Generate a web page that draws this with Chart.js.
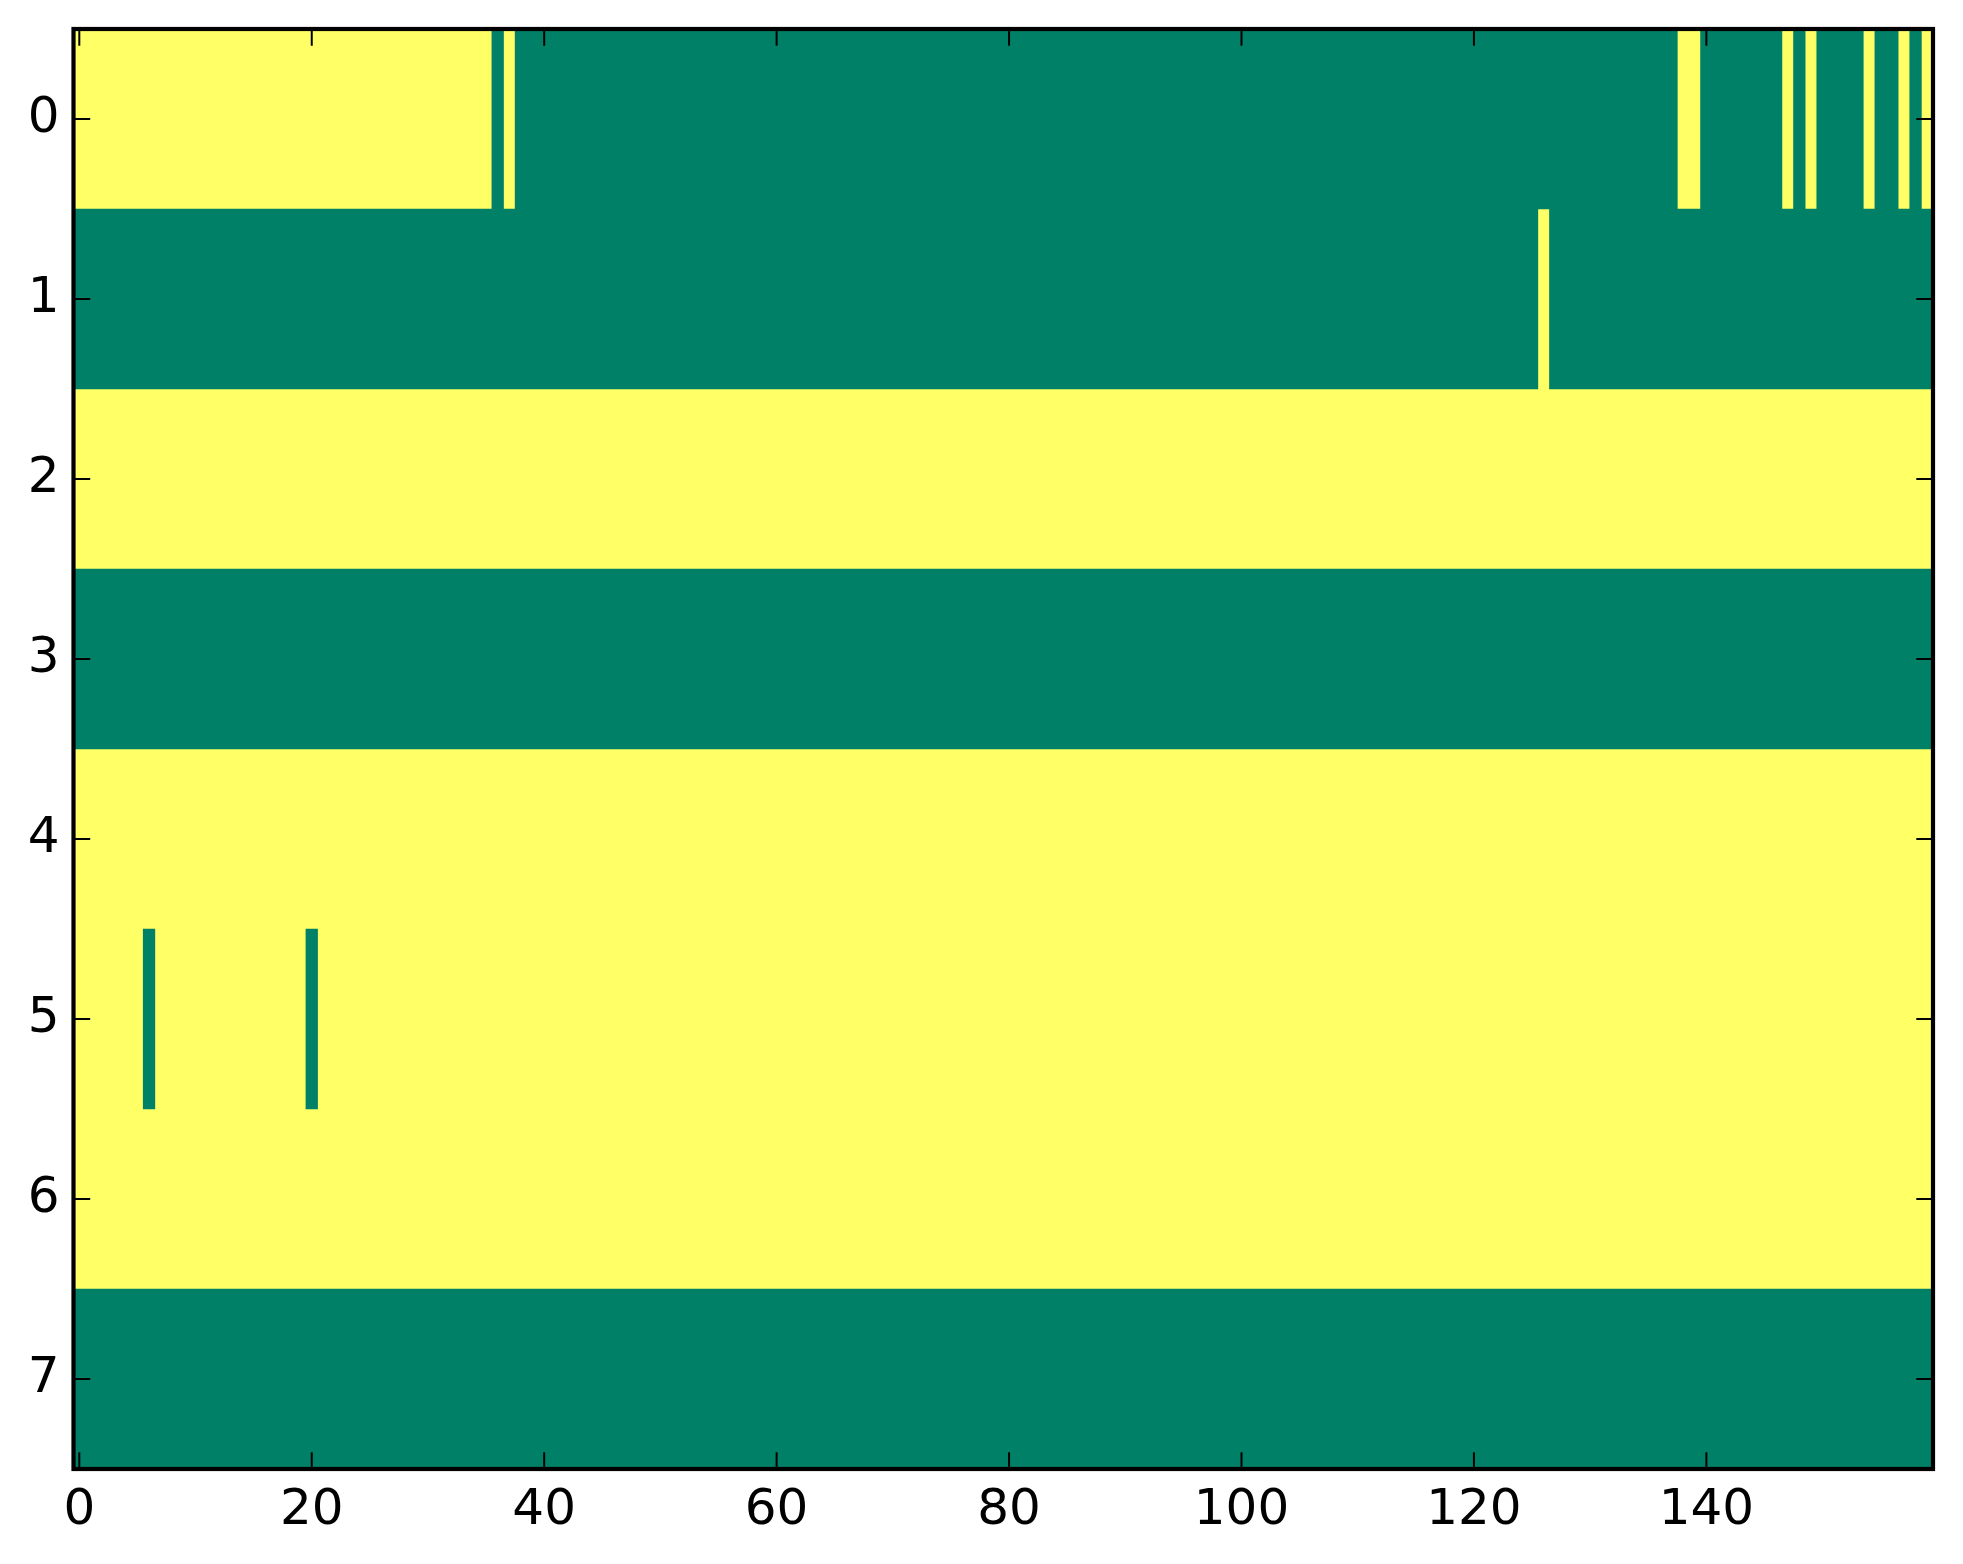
<!DOCTYPE html>
<html lang="en">

<head>
    <meta charset="UTF-8">
    <meta name="viewport" content="width=device-width, initial-scale=1.0">
    <title>Binary Matrix</title>
    <style>
        html, body {
            margin: 0;
            padding: 0;
            background: #ffffff;
        }

        .container {
            width: 1963px;
            height: 1564px;
        }
    </style>
</head>

<body>

    <div class="container">
        <canvas id="myMatrix"></canvas>
    </div>

    <script src="https://cdn.jsdelivr.net/npm/chart.js"></script>
    <script>
        // one string per row, one character per column (1 = yellow, 0 = green), grouped by 10
        const row0 = "1111111111 1111111111 1111111111 1111110100 0000000000 0000000000 0000000000 0000000000 0000000000 0000000000 0000000000 0000000000 0000000000 0000000011 0000000101 0000100101";
        const row1 = "0000000000 0000000000 0000000000 0000000000 0000000000 0000000000 0000000000 0000000000 0000000000 0000000000 0000000000 0000000000 0000001000 0000000000 0000000000 0000000000";
        const row2 = "1111111111 1111111111 1111111111 1111111111 1111111111 1111111111 1111111111 1111111111 1111111111 1111111111 1111111111 1111111111 1111111111 1111111111 1111111111 1111111111";
        const row3 = "0000000000 0000000000 0000000000 0000000000 0000000000 0000000000 0000000000 0000000000 0000000000 0000000000 0000000000 0000000000 0000000000 0000000000 0000000000 0000000000";
        const row4 = "1111111111 1111111111 1111111111 1111111111 1111111111 1111111111 1111111111 1111111111 1111111111 1111111111 1111111111 1111111111 1111111111 1111111111 1111111111 1111111111";
        const row5 = "1111110111 1111111111 0111111111 1111111111 1111111111 1111111111 1111111111 1111111111 1111111111 1111111111 1111111111 1111111111 1111111111 1111111111 1111111111 1111111111";
        const row6 = "1111111111 1111111111 1111111111 1111111111 1111111111 1111111111 1111111111 1111111111 1111111111 1111111111 1111111111 1111111111 1111111111 1111111111 1111111111 1111111111";
        const row7 = "0000000000 0000000000 0000000000 0000000000 0000000000 0000000000 0000000000 0000000000 0000000000 0000000000 0000000000 0000000000 0000000000 0000000000 0000000000 0000000000";

        const rows = [row0, row1, row2, row3, row4, row5, row6, row7];
        const rowLabels = ['0', '1', '2', '3', '4', '5', '6', '7'];
        const xTicks = [0, 20, 40, 60, 80, 100, 120, 140];

        // summer colormap ends
        const cellColors = ['#008066', '#FFFF66'];

        const grid = rows.map(r => r.replace(/ /g, '').split('').map(Number));
        const nCols = grid[0].length;

        // turn each row into runs of equal value, one floating bar per run
        function runsFor(value) {
            const out = [];
            grid.forEach((cells, r) => {
                let start = null;
                cells.forEach((v, c) => {
                    if (v === value && start === null) start = c;
                    if (start !== null && (v !== value || c === cells.length - 1)) {
                        const end = v === value ? c : c - 1;
                        out.push({ y: rowLabels[r], x: [start - 0.5, end + 0.5] });
                        start = null;
                    }
                });
            });
            return out;
        }

        const data = {
            labels: rowLabels,
            datasets: [0, 1].map(v => ({
                data: runsFor(v),
                backgroundColor: cellColors[v],
                borderWidth: 0,
                barPercentage: 1,
                categoryPercentage: 1,
                grouped: false,
            }))
        };

        // frame and inward ticks on all four sides, like matplotlib classic
        const framePlugin = {
            id: 'frame',
            afterDatasetsDraw(chart) {
                const { ctx, chartArea: a, scales } = chart;
                const len = 16.7;
                ctx.save();
                ctx.strokeStyle = '#000';
                ctx.lineWidth = 2;
                ctx.beginPath();
                xTicks.forEach(t => {
                    const px = scales.x.getPixelForValue(t);
                    ctx.moveTo(px, a.bottom); ctx.lineTo(px, a.bottom - len);
                    ctx.moveTo(px, a.top); ctx.lineTo(px, a.top + len);
                });
                rowLabels.forEach((l, i) => {
                    const py = scales.y.getPixelForValue(i);
                    ctx.moveTo(a.left, py); ctx.lineTo(a.left + len, py);
                    ctx.moveTo(a.right, py); ctx.lineTo(a.right - len, py);
                });
                ctx.stroke();
                ctx.lineWidth = 4.2;
                ctx.strokeRect(a.left, a.top, a.right - a.left, a.bottom - a.top);
                ctx.restore();
            }
        };

        const tickFont = { family: "'DejaVu Sans'", size: 50 };

        const config = {
            type: 'bar',
            data: data,
            options: {
                indexAxis: 'y',
                responsive: true,
                maintainAspectRatio: false,
                devicePixelRatio: 1,
                animation: false,
                layout: {
                    padding: { top: 29, right: 30, left: 0, bottom: 0 }
                },
                plugins: {
                    legend: { display: false },
                    tooltip: { enabled: false },
                },
                scales: {
                    x: {
                        type: 'linear',
                        min: -0.5,
                        max: nCols - 0.5,
                        afterBuildTicks: scale => {
                            scale.ticks = xTicks.map(v => ({ value: v }));
                        },
                        afterFit: scale => {
                            scale.height = 95;
                            scale.paddingLeft = 0;
                            scale.paddingRight = 0;
                        },
                        grid: { display: false, drawTicks: false },
                        border: { display: false },
                        ticks: {
                            color: '#000',
                            font: tickFont,
                            padding: 12,
                            maxRotation: 0,
                            autoSkip: false,
                        }
                    },
                    y: {
                        type: 'category',
                        afterFit: scale => {
                            scale.width = 73.5;
                            scale.paddingTop = 0;
                            scale.paddingBottom = 0;
                        },
                        grid: { display: false, drawTicks: false },
                        border: { display: false },
                        ticks: {
                            color: '#000',
                            font: tickFont,
                            padding: 14,
                        }
                    }
                }
            },
            plugins: [framePlugin]
        };

        const ctx = document.getElementById('myMatrix').getContext('2d');
        new Chart(ctx, config);
    </script>
</body>

</html>
